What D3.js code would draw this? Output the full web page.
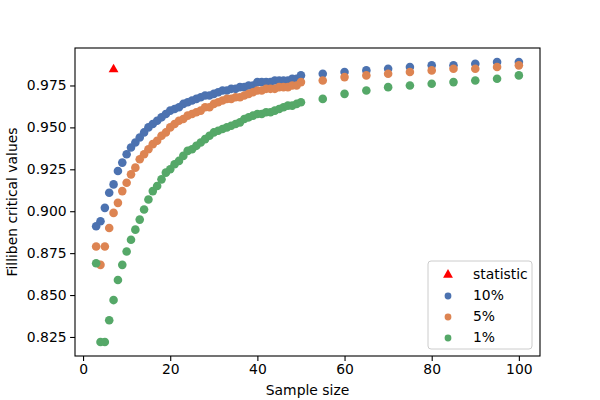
<!DOCTYPE html>
<html>
<head>
<meta charset="utf-8">
<script src="https://cdn.jsdelivr.net/npm/d3@7"></script>
<style>
  body { margin: 0; background: #fff; }
  text { font-family: "DejaVu Sans", sans-serif; }
</style>
</head>
<body>
<div id="chart"></div>
<script>
// Filliben critical values
var sampleSizes = [3, 4, 5, 6, 7, 8, 9, 10, 11, 12, 13, 14, 15, 16, 17, 18, 19, 20,
    21, 22, 23, 24, 25, 26, 27, 28, 29, 30, 31, 32, 33, 34, 35, 36, 37, 38, 39, 40,
    41, 42, 43, 44, 45, 46, 47, 48, 49, 50, 55, 60, 65, 70, 75, 80, 85, 90, 95, 100];
var crit10 = [.891, .894, .902, .911, .916, .924, .929, .934, .938, .941, .944, .947, .950, .952, .954, .956, .958, .960,
    .961, .962, .964, .965, .966, .967, .968, .969, .969, .970, .971, .972, .972, .973, .973, .974, .974, .975, .975, .977,
    .977, .977, .977, .978, .978, .978, .978, .979, .979, .981, .982, .983, .984, .985, .986, .987, .987, .988, .989, .989];
var crit5 = [.879, .868, .879, .890, .899, .905, .912, .917, .922, .926, .931, .934, .937, .940, .942, .945, .947, .950,
    .952, .954, .955, .957, .958, .959, .960, .962, .962, .964, .965, .966, .967, .967, .968, .968, .969, .970, .971, .972,
    .972, .973, .973, .973, .974, .974, .974, .975, .975, .977, .978, .980, .981, .982, .983, .984, .985, .985, .986, .987];
var crit1 = [.869, .822, .822, .835, .847, .859, .868, .876, .883, .889, .895, .901, .907, .912, .915, .919, .923, .925,
    .928, .930, .933, .936, .937, .939, .941, .943, .945, .947, .948, .949, .950, .951, .952, .953, .955, .956, .957, .958,
    .958, .959, .959, .960, .961, .962, .963, .963, .964, .965, .967, .970, .972, .974, .975, .976, .977, .978, .979, .981];
var statN = [7];
var statValue = [0.985];

var seriesNames = ["10%", "5%", "1%"];
var seriesColors = ["#4C72B0", "#DD8452", "#55A868"];
var seriesValues = [crit10, crit5, crit1];

var width = 600,
    height = 400,
    margin = {left: 75, right: 60, top: 48, bottom: 44};

var svg = d3.select("#chart")
    .append("svg")
    .attr("width", width)
    .attr("height", height);

// matplotlib style 5% margins
function padded(lo, hi) {
    var p = (hi - lo) * 0.05;
    return [lo - p, hi + p];
}

var allY = crit10.concat(crit5, crit1, statValue);
var x = d3.scaleLinear()
    .domain(padded(d3.min(sampleSizes), d3.max(sampleSizes)))
    .range([margin.left, width - margin.right]);
var y = d3.scaleLinear()
    .domain(padded(d3.min(allY), d3.max(allY)))
    .range([height - margin.bottom, margin.top]);

var xAxis = d3.axisBottom(x)
    .tickValues([0, 20, 40, 60, 80, 100])
    .tickSize(4.9)
    .tickPadding(3.5)
    .tickFormat(d3.format("d"));
var yAxis = d3.axisLeft(y)
    .tickValues([0.825, 0.85, 0.875, 0.9, 0.925, 0.95, 0.975])
    .tickSize(4.9)
    .tickPadding(3.5)
    .tickFormat(d3.format(".3f"));

var plot = svg.append("g");

// statistic
plot.selectAll(".stat")
    .data(statN).enter()
    .append("path")
    .attr("class", "stat")
    .attr("d", d3.symbol().type(d3.symbolTriangle).size(42))
    .attr("transform", function(d, i) {
        return "translate(" + x(d) + "," + (y(statValue[i]) + 0.8) + ")";
    })
    .attr("fill", "red");

seriesValues.forEach(function(vals, k) {
    plot.selectAll(".s" + k)
        .data(vals).enter()
        .append("circle")
        .attr("class", "s" + k)
        .attr("cx", function(d, i) { return x(sampleSizes[i]); })
        .attr("cy", function(d) { return y(d); })
        .attr("r", 4.3)
        .attr("fill", seriesColors[k]);
});

var gx = svg.append("g")
    .attr("transform", "translate(0," + (height - margin.bottom) + ")")
    .call(xAxis);
var gy = svg.append("g")
    .attr("transform", "translate(" + margin.left + ",0)")
    .call(yAxis);
[gx, gy].forEach(function(g) {
    g.select(".domain").remove();
    g.selectAll(".tick line").attr("stroke", "#000").attr("stroke-width", 1.1);
    g.selectAll(".tick text").attr("font-size", 13.9).attr("fill", "#000")
        .attr("font-family", "DejaVu Sans, sans-serif");
});

// frame
svg.append("rect")
    .attr("x", margin.left)
    .attr("y", margin.top)
    .attr("width", width - margin.left - margin.right)
    .attr("height", height - margin.top - margin.bottom)
    .attr("fill", "none")
    .attr("stroke", "#000")
    .attr("stroke-width", 1.1);

svg.append("text")
    .attr("x", (margin.left + width - margin.right) / 2)
    .attr("y", 395)
    .attr("text-anchor", "middle")
    .attr("font-size", 13.9)
    .text("Sample size");

svg.append("text")
    .attr("transform", "translate(17," + ((margin.top + height - margin.bottom) / 2) + ") rotate(-90)")
    .attr("text-anchor", "middle")
    .attr("font-size", 13.9)
    .text("Filliben critical values");

// legend
var legend = svg.append("g").attr("transform", "translate(428,261)");
legend.append("rect")
    .attr("width", 104)
    .attr("height", 88)
    .attr("rx", 3)
    .attr("fill", "#fff")
    .attr("fill-opacity", 0.8)
    .attr("stroke", "#cccccc");

var legendItems = ["statistic"].concat(seriesNames);
var legendColors = ["red"].concat(seriesColors);
legendItems.forEach(function(name, i) {
    var cy = 13 + i * 21;
    if (i === 0) {
        legend.append("path")
            .attr("d", d3.symbol().type(d3.symbolTriangle).size(42))
            .attr("transform", "translate(20," + (cy + 0.8) + ")")
            .attr("fill", legendColors[i]);
    } else {
        legend.append("circle")
            .attr("cx", 20)
            .attr("cy", cy + 1)
            .attr("r", 3.4)
            .attr("fill", legendColors[i]);
    }
    legend.append("text")
        .attr("x", 45)
        .attr("y", cy + 5)
        .attr("font-size", 13.9)
        .text(name);
});
</script>
</body>
</html>
